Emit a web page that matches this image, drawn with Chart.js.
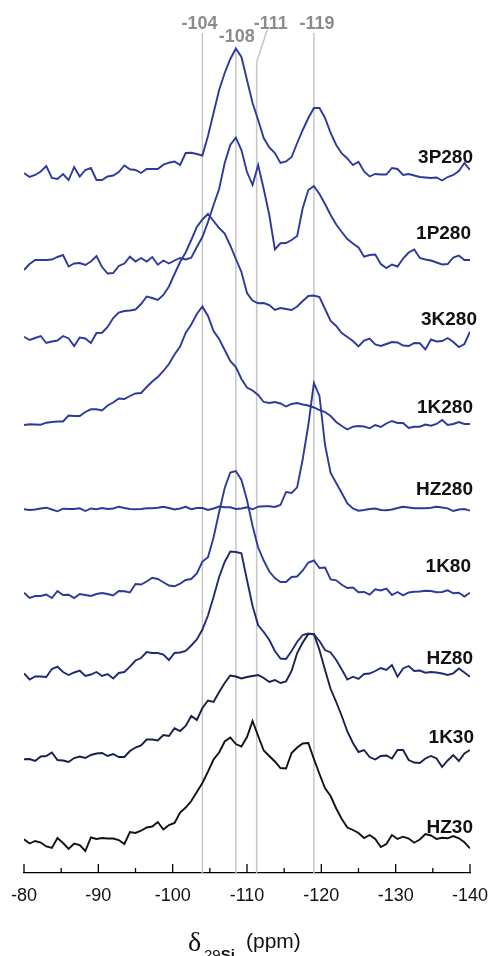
<!DOCTYPE html>
<html><head><meta charset="utf-8">
<script src="https://cdn.jsdelivr.net/npm/chart.js@4.4.1/dist/chart.umd.min.js"></script>
<style>html,body{margin:0;padding:0;background:#fff;}#wrap{width:491px;height:956px;}</style>
</head><body><div id="wrap"><canvas id="c" width="491" height="956"></canvas></div>
<script>
// chemical shift axis (ppm)
const ppm = [-80,-80.75,-81.5,-82.25,-83,-83.75,-84.5,-85.25,-86,-86.75,-87.5,-88.25,-89,-89.75,-90.5,-91.25,-92,-92.75,-93.5,-94.25,-95,-95.75,-96.5,-97.25,-98,-98.75,-99.5,-100.25,-101,-101.75,-102.5,-103.25,-104,-104.75,-105.5,-106.25,-107,-107.75,-108.5,-109.25,-110,-110.75,-111.5,-112.25,-113,-113.75,-114.5,-115.25,-116,-116.75,-117.5,-118.25,-119,-119.75,-120.5,-121.25,-122,-122.75,-123.5,-124.25,-125,-125.75,-126.5,-127.25,-128,-128.75,-129.5,-130.25,-131,-131.75,-132.5,-133.25,-134,-134.75,-135.5,-136.25,-137,-137.75,-138.5,-139.25,-140];

// sample names (top to bottom)
const samples = ['3P280','1P280','3K280','1K280','HZ280','1K80','HZ80','1K30','HZ30'];
// vertical stacking offset of each spectrum (intensity units)
const offsets = [693,608,530,447,363,277,196,113,30];

// intensities (arbitrary units)
const s3P280 = [7,3,5,8.5,14,2,1,6,0,13,3.5,10,12,0,0,3.5,4.5,8,14.5,10.7,10,7,11,11,11,15.3,17.3,18.5,15,27,27.3,26,24.5,44,67,90,107,121,131.5,123,100,77,60,42,32.5,27,17,18.5,23,37,50,62,72,72,62,47,35,26.5,21.5,15,18.3,8.5,3.5,6,5.5,5.5,12,11,5,6,4.5,3,2.5,2,2.5,-0.5,3,5,9,17,10];
const s1P280 = [-5,1,5,5,5,5.5,8,10,-1.5,1.5,2,0,3.5,9,-2,-8.5,-8,-1,1.5,8.3,3.5,7,3.5,8,0.3,4.5,1.5,4.5,7,5.5,7.3,18,28,43,60,76,102,120,127.5,115,93,80,100,76,50,15.5,21.7,22,25,29,57,75,79,71,61,50,40.5,33,26,21.5,17.5,8.3,10,10.5,1,-3,0.5,-1.5,6.5,12.5,15.5,7,5.5,4.5,2.5,0.5,1,7.5,9.5,5,5];
const s3K280 = [6.3,3,5,7,0,1.5,2.5,7,4.5,-3,5.5,4.5,0,10,10.3,16,25,30.5,32,32.5,33.5,39,46.5,45,43,48,56.5,69,81,90.5,103,116,123.5,129,122,115,109.5,97.5,84,71,50,42.5,39.7,40,38,33,35,34,33,36.5,42,47,47.5,46,34,22,17,10,6,2,-3.5,2.5,4.5,-1.5,-3,-1,1,0.5,-2.5,-3,0,-0.3,-6.5,3.5,1.5,2,5,1,-4,-1,11.3];
const s1K280 = [1,1.7,1.5,1.3,3.3,4,4.5,4.5,10.5,10,10,14,16.7,16.7,15.5,20.5,23.5,27.5,27,30,32.5,33,39,44.5,49,55,62,71.5,79.5,93,101.5,112,119.5,110,95,87,76,65,59,47,38.5,35.5,31,24,23,24,22.5,19.5,22,23,21.5,20.5,18.5,16,14,10,4,0,-3.5,-0.7,0,-0.5,-2.3,1,-1,2.5,5,3,3,-2,-0.7,-0.7,1.5,0.3,2,6,1,2,4,2,2];
const sHZ280 = [0.7,0,0.5,1.5,2.3,0.5,-1.3,1.3,1,1,1.7,-1,1.5,0.7,2,1,1.5,3.3,2,1,0.7,1,1.7,1.7,2.3,3.3,2,0.5,1.5,3.2,0.8,2,2,0,1.5,3.5,2.7,2.7,1,1.5,2.7,0.7,3.3,3.7,3.7,3,5,18,17,22.7,51,85,127,114,65,37,27,17,6.5,1.5,-0.7,0,1,1.5,0,-0.3,0.5,2,3.3,2.5,1.7,1.7,1.7,2.3,3.3,2.5,1.7,-1,0.5,1,-0.7];
const s1K80 = [3.3,-2,0,0,1.5,-2,5,1,1.3,-2,2,1,0,2,3,2,0.5,5,4.7,3.5,12,11.5,14.5,18.3,17,13.7,10.5,9.7,12.3,16,17,22.5,34.5,38.7,58.5,84,108,123.5,125,116,96,70,48.5,35.5,24.5,18,14,14,19,19.5,25.5,33.5,35.5,28,28.5,16.5,15.7,11.2,8,8.5,3.7,4,1.3,6.7,5.5,7.3,1,4,0.7,3.5,4.3,4.5,5.2,5,3.8,4,5.7,2.7,3.2,-0.5,3.3];
const sHZ80 = [3.7,-2.5,0.5,0.5,0,8,10.3,5,2,4.5,6.3,1,2.5,5,1,3,-1.5,4,5,10.3,16.5,19,25,24,24,22.5,17,24,24.5,26,31.5,37.5,47.5,61.5,80,100,115,125.5,125,123.7,97,71,51.7,45,37,26,18.5,18,26,35.3,42,43.5,42.5,36,27,24.5,17,7.5,-2.5,0.3,-2,3,3.5,6,9,7,12,0.3,8.5,11,6,6.5,4.3,5,4.5,3.5,2,3.7,8.5,4.5,0.3];
const s1K30 = [0.7,1,-1,3.5,4,7.5,0,-0.5,-2,2,3.5,2,5,6.5,7,4,6,3,3,9,12.5,14.5,20.5,20.5,19.5,25,24,31.7,29,34,44,40,52,59.5,58,68,77,84.5,83.5,81.5,83,84,85,82,78,80,77,78.5,89,107,117.5,126,126,110,90,71,58,44,28.5,17,8,10,3,0.5,4,4.5,1.5,10,10,0,-2.5,-3,1.5,4,1.5,-7,-0.5,5,-1,6.5,10];
const sHZ30 = [3.7,-0.5,2,0.5,-3.5,-5,5,0,-6,-0.5,-2,-8,5.5,4,5,4.5,4.5,3,-1,11,10,12.3,15.5,16.5,21,13.5,18,20,30.5,35.5,42,51,60,71.3,83.5,90.5,101.5,105.5,99,96.5,106,122,107,92.5,87,81.5,75,74.5,90,95.5,99.5,100,84,69,54.7,47,34.5,24,15.5,13,10,5,8,4,-4,-1,8,4,6.3,4.5,0.3,3.5,9,7.5,4,5.3,4.7,7,4.7,0.7,-5.3];

// reference shift lines
const refShifts = [-104,-108.5,-111.3,-119];
const refLabels = ['-104','-108','-111','-119'];
// x-axis ticks
const majorTicks = [-80,-90,-100,-110,-120,-130,-140];
const minorTicks = [-85,-95,-105,-115,-125,-135];

const spectra = [s3P280,s1P280,s3K280,s1K280,sHZ280,s1K80,sHZ80,s1K30,sHZ30];
const colors = ['#2d3a9b','#2d3a9b','#2d3a9b','#2d3a9b','#2d3a9b','#2d3a9b','#1f2b72','#17204a','#111111'];

// layout (style only)
const refLineTop = [33,46,62,33];
const refLabelDx = [-3,1,14,3];
const refLabelY = [29,42,29,29];
const nameLift = [17,26,18,13,15,24,13,17,10];
const nameDx = [3,1,7,3,3,1,3,4,3];

const datasets = spectra.map((vals,k)=>({
  label: samples[k],
  data: ppm.map((x,i)=>({x:x, y: offsets[k]+vals[i]})),
  borderColor: colors[k], borderWidth: 1.9, pointRadius: 0, fill:false, tension:0
}));

const annot = {
  id:'annot',
  beforeDatasetsDraw(chart){
    const {ctx, chartArea, scales:{x}} = chart;
    ctx.save();
    ctx.strokeStyle = '#c6c6c6'; ctx.lineWidth = 1.5;
    refShifts.forEach((v,i)=>{
      const px = x.getPixelForValue(v);
      ctx.beginPath(); ctx.moveTo(px, refLineTop[i]); ctx.lineTo(px, chartArea.bottom); ctx.stroke();
    });
    // leader for -111
    const p111 = x.getPixelForValue(refShifts[2]);
    ctx.beginPath(); ctx.moveTo(p111, refLineTop[2]); ctx.lineTo(p111+10.5, 30); ctx.stroke();
    ctx.fillStyle = '#8c8c8c';
    ctx.font = 'bold 18px "Liberation Sans", Arial, sans-serif';
    ctx.textAlign = 'center'; ctx.textBaseline = 'alphabetic';
    refShifts.forEach((v,i)=>{
      ctx.fillText(refLabels[i], x.getPixelForValue(v)+refLabelDx[i], refLabelY[i]);
    });
    ctx.restore();
  },
  afterDraw(chart){
    const {ctx, chartArea, scales:{x,y}} = chart;
    ctx.save();
    // inward ticks
    ctx.strokeStyle = '#000'; ctx.lineWidth = 1.3;
    majorTicks.forEach(v=>{ const px=x.getPixelForValue(v); ctx.beginPath(); ctx.moveTo(px,chartArea.bottom); ctx.lineTo(px,chartArea.bottom-9); ctx.stroke(); });
    minorTicks.forEach(v=>{ const px=x.getPixelForValue(v); ctx.beginPath(); ctx.moveTo(px,chartArea.bottom); ctx.lineTo(px,chartArea.bottom-5); ctx.stroke(); });
    // sample names
    ctx.fillStyle = '#111';
    ctx.font = 'bold 19px "Liberation Sans", Arial, sans-serif';
    ctx.textAlign = 'right'; ctx.textBaseline = 'alphabetic';
    samples.forEach((s,k)=>{
      ctx.fillText(s, chartArea.right + nameDx[k], y.getPixelForValue(offsets[k]+nameLift[k]));
    });
    // axis title: δ 29Si (ppm)
    ctx.textAlign = 'left';
    ctx.fillStyle = '#111';
    ctx.font = '28px "Liberation Serif", "DejaVu Serif", serif';
    ctx.fillText('δ', 188, 951);
    ctx.font = '15px "Liberation Sans", Arial, sans-serif';
    ctx.fillText('29', 204, 960);
    const w29 = ctx.measureText('29').width;
    ctx.font = 'bold 15px "Liberation Sans", Arial, sans-serif';
    ctx.fillText('Si', 204 + w29, 960);
    ctx.font = '21px "Liberation Sans", Arial, sans-serif';
    ctx.fillText('(ppm)', 246, 948);
    ctx.restore();
  }
};

new Chart(document.getElementById('c').getContext('2d'), {
  type:'line',
  data:{datasets},
  options:{
    responsive:false, animation:false,
    layout:{padding:{left:24,right:21,top:0,bottom:0}},
    plugins:{legend:{display:false}, tooltip:{enabled:false}},
    scales:{
      x:{type:'linear', reverse:true, min:-140, max:-80,
         afterFit(s){ s.height = 83; s.paddingLeft = 0; s.paddingRight = 0; },
         grid:{display:true, drawOnChartArea:false, drawTicks:false, color:'rgba(0,0,0,0)'},
         border:{display:true, color:'#000', width:1.3},
         ticks:{stepSize:10, padding:12, color:'#111', maxRotation:0, autoSkip:false,
                font:{family:'"Liberation Sans", Arial, sans-serif', size:18}}
      },
      y:{display:false, min:0, max:873}
    }
  },
  plugins:[annot]
});
</script>
</body></html>
